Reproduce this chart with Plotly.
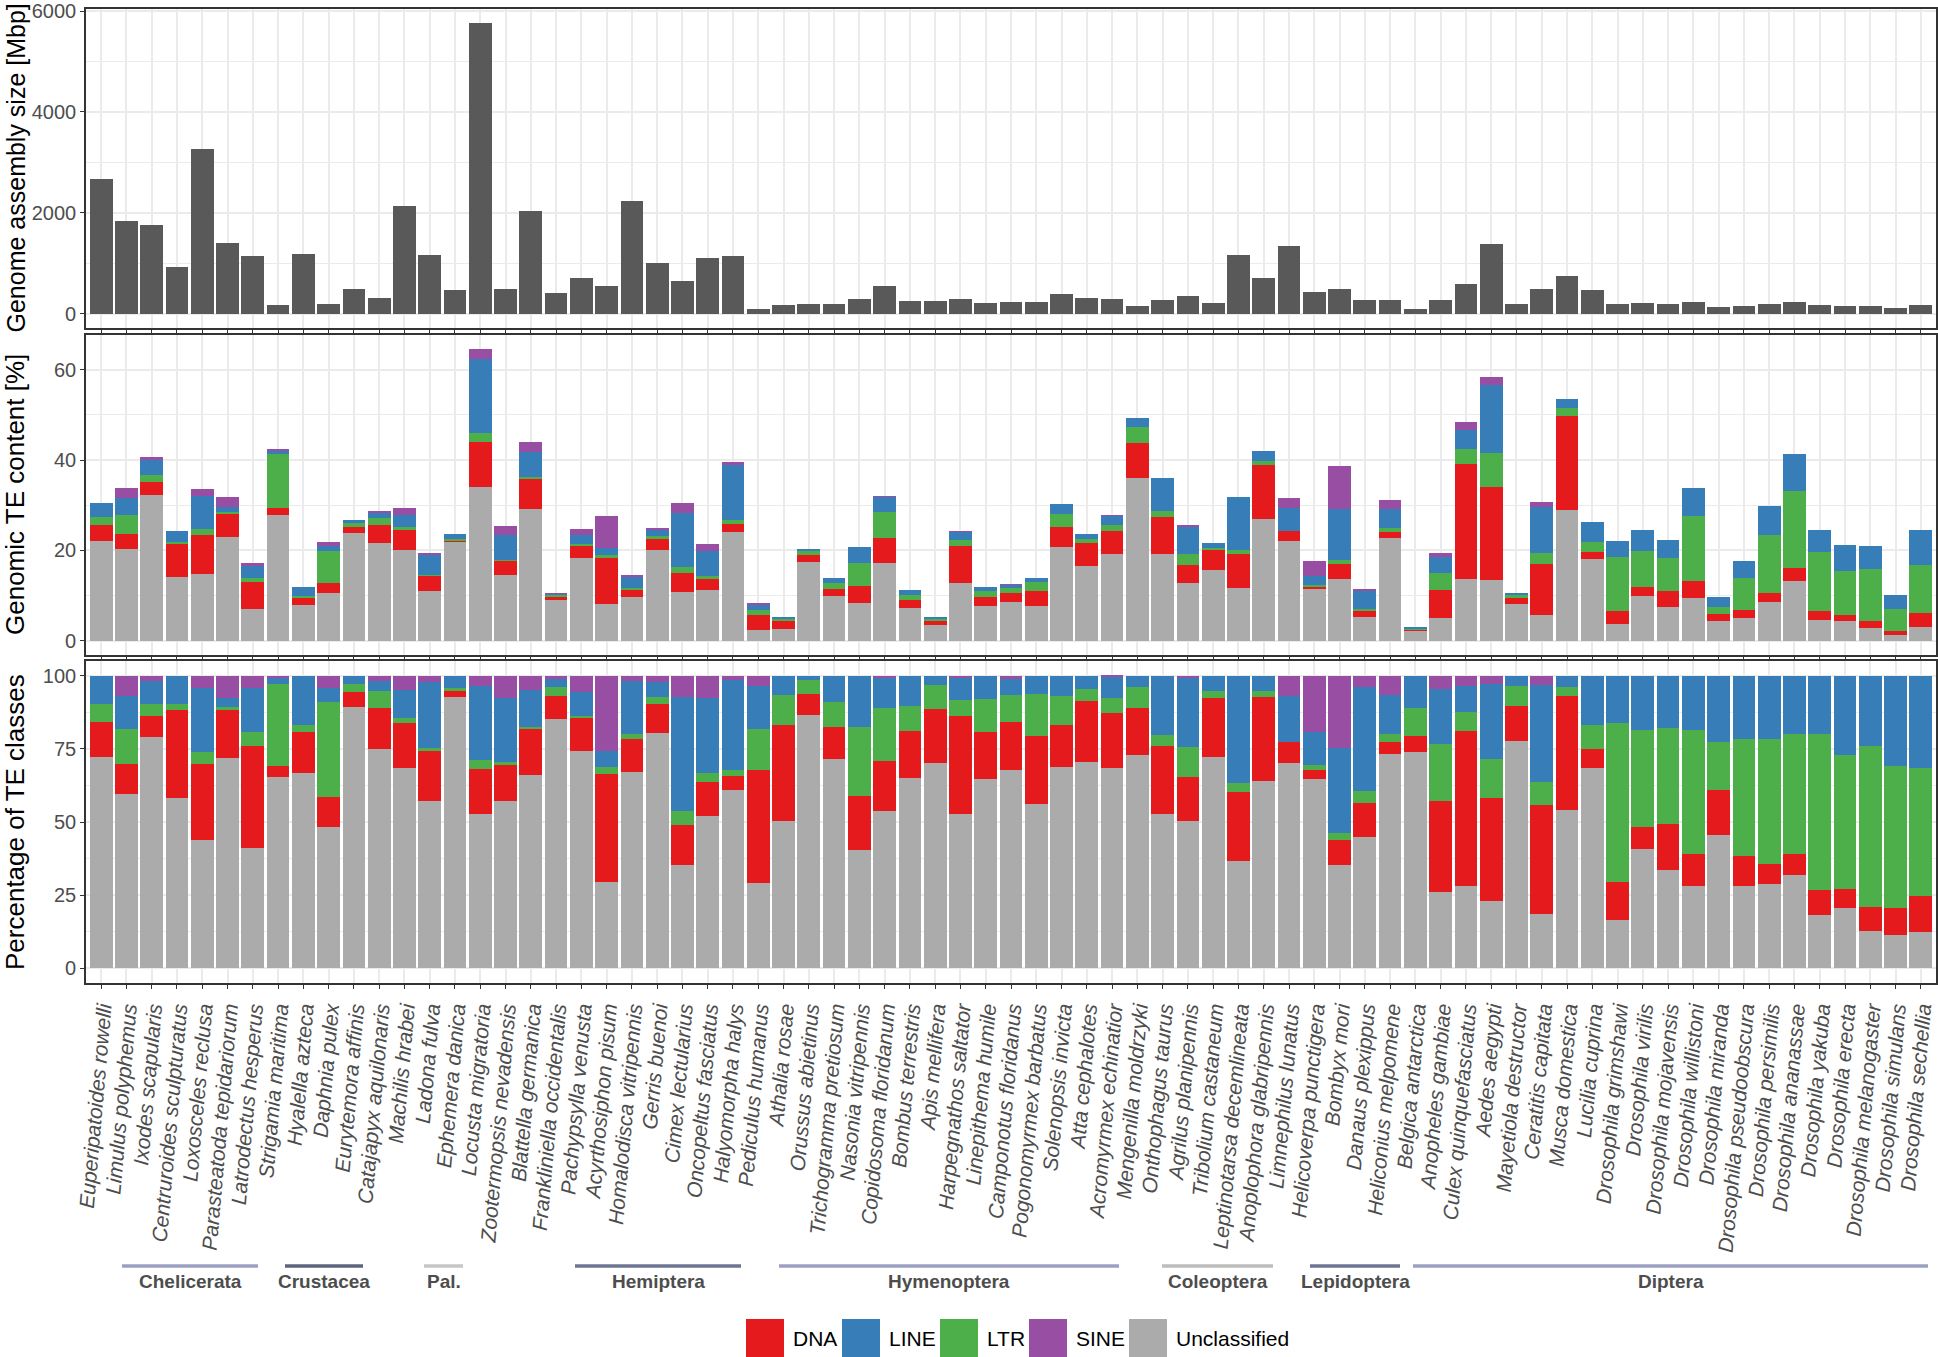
import plotly.graph_objects as go

W, H = 1938, 1357
FONT = "Liberation Sans, Arial, sans-serif"

species = [
    "Euperipatoides rowelli", "Limulus polyphemus", "Ixodes scapularis", "Centruroides sculpturatus",
    "Loxosceles reclusa", "Parasteatoda tepidariorum", "Latrodectus hesperus", "Strigamia maritima",
    "Hyalella azteca", "Daphnia pulex", "Eurytemora affinis", "Catajapyx aquilonaris", "Machilis hrabei",
    "Ladona fulva", "Ephemera danica", "Locusta migratoria", "Zootermopsis nevadensis", "Blattella germanica",
    "Frankliniella occidentalis", "Pachypsylla venusta", "Acyrthosiphon pisum", "Homalodisca vitripennis",
    "Gerris buenoi", "Cimex lectularius", "Oncopeltus fasciatus", "Halyomorpha halys", "Pediculus humanus",
    "Athalia rosae", "Orussus abietinus", "Trichogramma pretiosum", "Nasonia vitripennis",
    "Copidosoma floridanum", "Bombus terrestris", "Apis mellifera", "Harpegnathos saltator",
    "Linepithema humile", "Camponotus floridanus", "Pogonomyrmex barbatus", "Solenopsis invicta",
    "Atta cephalotes", "Acromyrmex echinatior", "Mengenilla moldrzyki", "Onthophagus taurus",
    "Agrilus planipennis", "Tribolium castaneum", "Leptinotarsa decemlineata", "Anoplophora glabripennis",
    "Limnephilus lunatus", "Helicoverpa punctigera", "Bombyx mori", "Danaus plexippus",
    "Heliconius melpomene", "Belgica antarctica", "Anopheles gambiae", "Culex quinquefasciatus",
    "Aedes aegypti", "Mayetiola destructor", "Ceratitis capitata", "Musca domestica", "Lucilia cuprina",
    "Drosophila grimshawi", "Drosophila virilis", "Drosophila mojavensis", "Drosophila willistoni",
    "Drosophila miranda", "Drosophila pseudoobscura", "Drosophila persimilis", "Drosophila ananassae",
    "Drosophila yakuba", "Drosophila erecta", "Drosophila melanogaster", "Drosophila simulans",
    "Drosophila sechellia",
]

genome_size_mbp = [
    2678, 1836, 1770, 934, 3257, 1401, 1138, 184, 1178, 204,
    493, 322, 2145, 1158, 474, 5757, 487, 2040, 421, 704,
    553, 2243, 1000, 655, 1099, 1145, 105, 171, 197, 197,
    296, 553, 250, 250, 296, 217, 237, 237, 395, 316,
    296, 158, 270, 355, 211, 1164, 711, 1342, 434, 487,
    276, 276, 92, 270, 586, 1382, 191, 487, 750, 474,
    197, 211, 197, 237, 138, 151, 191, 230, 171, 151,
    151, 125, 171,
]

te_content_pct = [
    30.4, 33.9, 40.7, 24.2, 33.5, 31.9, 17.2, 42.4, 11.8, 21.9,
    26.7, 28.7, 29.3, 19.4, 23.5, 64.5, 25.3, 43.9, 10.5, 24.7,
    27.5, 14.5, 25.0, 30.5, 21.4, 39.5, 8.3, 5.2, 20.2, 13.9,
    20.7, 32.0, 11.2, 5.0, 24.2, 11.9, 12.5, 13.8, 30.2, 23.6,
    27.8, 49.3, 36.1, 25.5, 21.6, 31.8, 42.0, 31.5, 17.7, 38.7,
    11.5, 31.1, 3.0, 19.4, 48.4, 58.3, 10.5, 30.6, 53.5, 26.3,
    22.0, 24.4, 22.2, 33.8, 9.7, 17.6, 29.8, 41.3, 24.5, 21.2,
    21.0, 10.1, 24.4,
]

# share of each TE class in the annotated TE content (%)
unclassified_share = [
    72.3, 59.7, 79.0, 58.1, 43.7, 71.7, 41.1, 65.5, 66.6, 48.2,
    89.3, 75.1, 68.6, 57.1, 92.7, 52.8, 57.3, 66.2, 85.1, 74.4,
    29.6, 67.1, 80.5, 35.2, 52.1, 61.0, 29.3, 50.5, 86.4, 71.4,
    40.6, 53.8, 65.1, 70.2, 52.6, 64.8, 67.9, 56.0, 68.7, 70.4,
    68.6, 72.9, 52.9, 50.4, 72.3, 36.8, 64.0, 70.1, 64.6, 35.4,
    44.8, 73.1, 73.9, 26.2, 28.1, 22.9, 77.7, 18.6, 54.1, 68.6,
    16.6, 40.9, 33.7, 28.0, 45.7, 28.1, 28.9, 32.0, 18.3, 20.7,
    12.9, 11.4, 12.5,
]
dna_share = [
    11.7, 10.1, 7.3, 30.2, 26.0, 16.5, 34.9, 3.6, 14.2, 10.3,
    5.0, 13.9, 15.3, 17.2, 1.9, 15.3, 12.5, 15.6, 7.9, 11.2,
    36.8, 11.2, 9.8, 13.8, 11.6, 4.6, 38.5, 32.8, 7.3, 11.2,
    18.3, 16.9, 15.9, 18.5, 33.7, 16.0, 16.2, 23.4, 14.6, 21.1,
    18.5, 15.9, 23.1, 14.9, 20.2, 23.4, 28.8, 7.3, 3.1, 8.4,
    11.8, 4.3, 5.5, 31.1, 52.9, 35.3, 12.0, 37.1, 38.8, 6.4,
    12.8, 7.4, 15.6, 11.0, 15.3, 10.2, 6.6, 7.0, 8.6, 6.4,
    8.1, 9.2, 12.3,
]
ltr_share = [
    6.4, 12.0, 3.9, 2.1, 4.1, 1.2, 4.9, 28.2, 2.3, 32.6,
    3.0, 5.6, 1.8, 0.9, 1.2, 3.1, 0.6, 0.5, 3.2, 0.7,
    2.5, 1.6, 2.5, 4.8, 3.2, 2.2, 13.9, 10.0, 4.7, 8.5,
    23.7, 18.4, 8.5, 8.0, 5.5, 11.3, 9.4, 14.4, 9.7, 3.8,
    5.4, 7.4, 3.7, 10.2, 2.4, 3.0, 2.1, 0.0, 1.9, 2.3,
    4.1, 2.6, 9.5, 19.4, 6.7, 13.2, 6.9, 8.0, 3.3, 8.1,
    54.3, 33.1, 32.9, 42.4, 16.5, 39.9, 42.9, 41.0, 53.1, 45.8,
    55.0, 48.7, 43.7,
]
line_share = [
    9.6, 11.2, 8.1, 9.6, 22.0, 3.1, 14.8, 2.1, 16.9, 4.8,
    2.7, 3.7, 9.3, 22.5, 4.2, 25.4, 21.8, 12.7, 2.5, 8.0,
    5.4, 18.2, 4.9, 38.9, 25.4, 30.6, 14.6, 6.7, 1.6, 8.9,
    17.4, 10.4, 10.5, 3.3, 7.7, 7.9, 5.5, 6.2, 7.0, 4.7,
    7.2, 3.8, 20.3, 23.7, 5.1, 36.8, 5.1, 15.7, 11.2, 29.3,
    35.5, 13.4, 11.1, 18.7, 8.6, 25.9, 3.4, 33.2, 3.8, 16.9,
    16.3, 18.6, 17.8, 18.6, 22.5, 21.8, 21.6, 20.0, 20.0, 27.1,
    24.0, 30.7, 31.5,
]
sine_share = [
    0.0, 7.0, 1.7, 0.0, 4.2, 7.5, 4.3, 0.6, 0.0, 4.1,
    0.0, 1.7, 5.0, 2.3, 0.0, 3.4, 7.8, 5.0, 1.3, 5.7,
    25.7, 1.9, 2.3, 7.3, 7.7, 1.6, 3.7, 0.0, 0.0, 0.0,
    0.0, 0.5, 0.0, 0.0, 0.5, 0.0, 1.0, 0.0, 0.0, 0.0,
    0.3, 0.0, 0.0, 0.8, 0.0, 0.0, 0.0, 6.9, 19.2, 24.6,
    3.8, 6.6, 0.0, 4.6, 3.7, 2.7, 0.0, 3.1, 0.0, 0.0,
    0.0, 0.0, 0.0, 0.0, 0.0, 0.0, 0.0, 0.0, 0.0, 0.0,
    0.0, 0.0, 0.0,
]

te_classes = ["DNA", "LINE", "LTR", "SINE", "Unclassified"]
class_colours = {"DNA": "#E41A1C", "LINE": "#377EB8", "LTR": "#4DAF4A",
                 "SINE": "#984EA3", "Unclassified": "#ABABAB"}

groups = ["Chelicerata", "Crustacea", "Pal.", "Hemiptera", "Hymenoptera",
          "Coleoptera", "Lepidoptera", "Diptera"]


# page pixel -> paper fraction
def px(x):
    return x / W


def py(y):
    return 1 - y / H


shares = {"Unclassified": unclassified_share, "DNA": dna_share, "LTR": ltr_share,
          "LINE": line_share, "SINE": sine_share}
stack_order = ["Unclassified", "DNA", "LTR", "LINE", "SINE"]  # bottom -> top

fig = go.Figure()

# genome size
fig.add_trace(go.Bar(x=species, y=genome_size_mbp, marker_color="#595959",
                     marker_line_width=0, xaxis="x", yaxis="y", showlegend=False))

# genomic TE content split into classes, and class percentages
for cls in stack_order:
    te_part = [tot * s / 100 for tot, s in zip(te_content_pct, shares[cls])]
    fig.add_trace(go.Bar(x=species, y=te_part, name=cls, marker_color=class_colours[cls],
                         marker_line_width=0, xaxis="x2", yaxis="y2", showlegend=False))
for cls in stack_order:
    fig.add_trace(go.Bar(x=species, y=shares[cls], name=cls, marker_color=class_colours[cls],
                         marker_line_width=0, xaxis="x3", yaxis="y3", showlegend=False))

grid = "#EBEBEB"
border = "#333333"
xdom = [px(86), px(1936)]


def xaxis_style(anchor, labels):
    d = dict(domain=xdom, anchor=anchor, type="category", range=[-0.6, len(species) - 0.4],
             tickmode="array", tickvals=species, ticktext=species, automargin=False,
             showgrid=True, gridcolor=grid, gridwidth=1.8,
             ticks="outside", ticklen=4, tickwidth=1.3, tickcolor=border,
             showline=True, mirror=True, linecolor=border, linewidth=1.6,
             zeroline=False, showticklabels=labels)
    if labels:
        d.update(tickangle=-85, ticklabeloverflow="allow",
                 tickfont=dict(family=FONT, size=21, color="#4d4d4d", style="italic"))
    return d


def yaxis_style(anchor, top, bottom, rng, ticks, minor):
    return dict(domain=[py(bottom), py(top)], anchor=anchor, range=rng, automargin=False,
                tickmode="array", tickvals=ticks, ticktext=[str(t) for t in ticks],
                ticklabeloverflow="allow",
                showgrid=True, gridcolor=grid, gridwidth=1.8,
                minor=dict(tickmode="array", tickvals=minor, showgrid=True,
                           gridcolor=grid, gridwidth=1.1, ticks=""),
                ticks="outside", ticklen=4, tickwidth=1.3, tickcolor=border,
                showline=True, mirror=True, linecolor=border, linewidth=1.6,
                zeroline=False,
                tickfont=dict(family=FONT, size=20, color="#4d4d4d"))


annotations = []
shapes = []

titles = [("Genome assembly size [Mbp]", 9, 328, 25),
          ("Genomic TE content [%]", 335, 655, 26),
          ("Percentage of TE classes", 661, 983, 26)]
for text, top, bottom, size in titles:
    annotations.append(dict(text=text, x=px(15), y=py((top + bottom) / 2), xref="paper", yref="paper",
                            xanchor="center", yanchor="middle", textangle=-90, showarrow=False,
                            font=dict(family=FONT, size=size, color="black")))

# taxonomic group bars below the species names
group_spans = [(122, 258), (285, 363), (424, 463), (575, 741), (779, 1119),
               (1162, 1273), (1310, 1400), (1413, 1928)]
group_colours = ["#9ba0c0", "#5d647c", "#c6c6c6", "#6e7592", "#9ba0c0",
                 "#bdbdbd", "#6e7592", "#9ba0c0"]
for name, (x0, x1), col in zip(groups, group_spans, group_colours):
    shapes.append(dict(type="line", xref="paper", yref="paper", x0=px(x0), x1=px(x1),
                       y0=py(1266), y1=py(1266), line=dict(color=col, width=3.5)))
    annotations.append(dict(text="<b>%s</b>" % name, x=px((x0 + x1) / 2), y=py(1281),
                            xref="paper", yref="paper", xanchor="center", yanchor="middle",
                            showarrow=False, font=dict(family=FONT, size=19, color="#4d4d4d")))

# legend drawn by hand to get the large ggplot keys
legend_x = [746, 842, 940, 1029, 1129]
for cls, x0 in zip(te_classes, legend_x):
    shapes.append(dict(type="rect", xref="paper", yref="paper", x0=px(x0), x1=px(x0 + 38),
                       y0=py(1357), y1=py(1319), line=dict(width=0),
                       fillcolor=class_colours[cls]))
    annotations.append(dict(text=cls, x=px(x0 + 45), y=py(1338), xref="paper", yref="paper",
                            xanchor="left", yanchor="middle", showarrow=False,
                            font=dict(family=FONT, size=21, color="black")))

fig.update_layout(
    width=W, height=H,
    margin=dict(l=0, r=0, t=0, b=0, autoexpand=False),
    paper_bgcolor="white", plot_bgcolor="white",
    barmode="stack", bargap=0.1,
    font=dict(family=FONT),
    xaxis=xaxis_style("y", False),
    xaxis2=xaxis_style("y2", False),
    xaxis3=xaxis_style("y3", True),
    yaxis=yaxis_style("x", 9, 328, [-280, 6040], [0, 2000, 4000, 6000], [1000, 3000, 5000]),
    yaxis2=yaxis_style("x2", 335, 655, [-3.2, 67.7], [0, 20, 40, 60], [10, 30, 50]),
    yaxis3=yaxis_style("x3", 661, 983, [-5, 105], [0, 25, 50, 75, 100], [12.5, 37.5, 62.5, 87.5]),
    annotations=annotations,
    shapes=shapes,
)

# the page's default 8px body margin would push the figure off the window
fig.write_html("out.html", config={"displayModeBar": False},
               post_script="document.body.style.margin = '0';")
